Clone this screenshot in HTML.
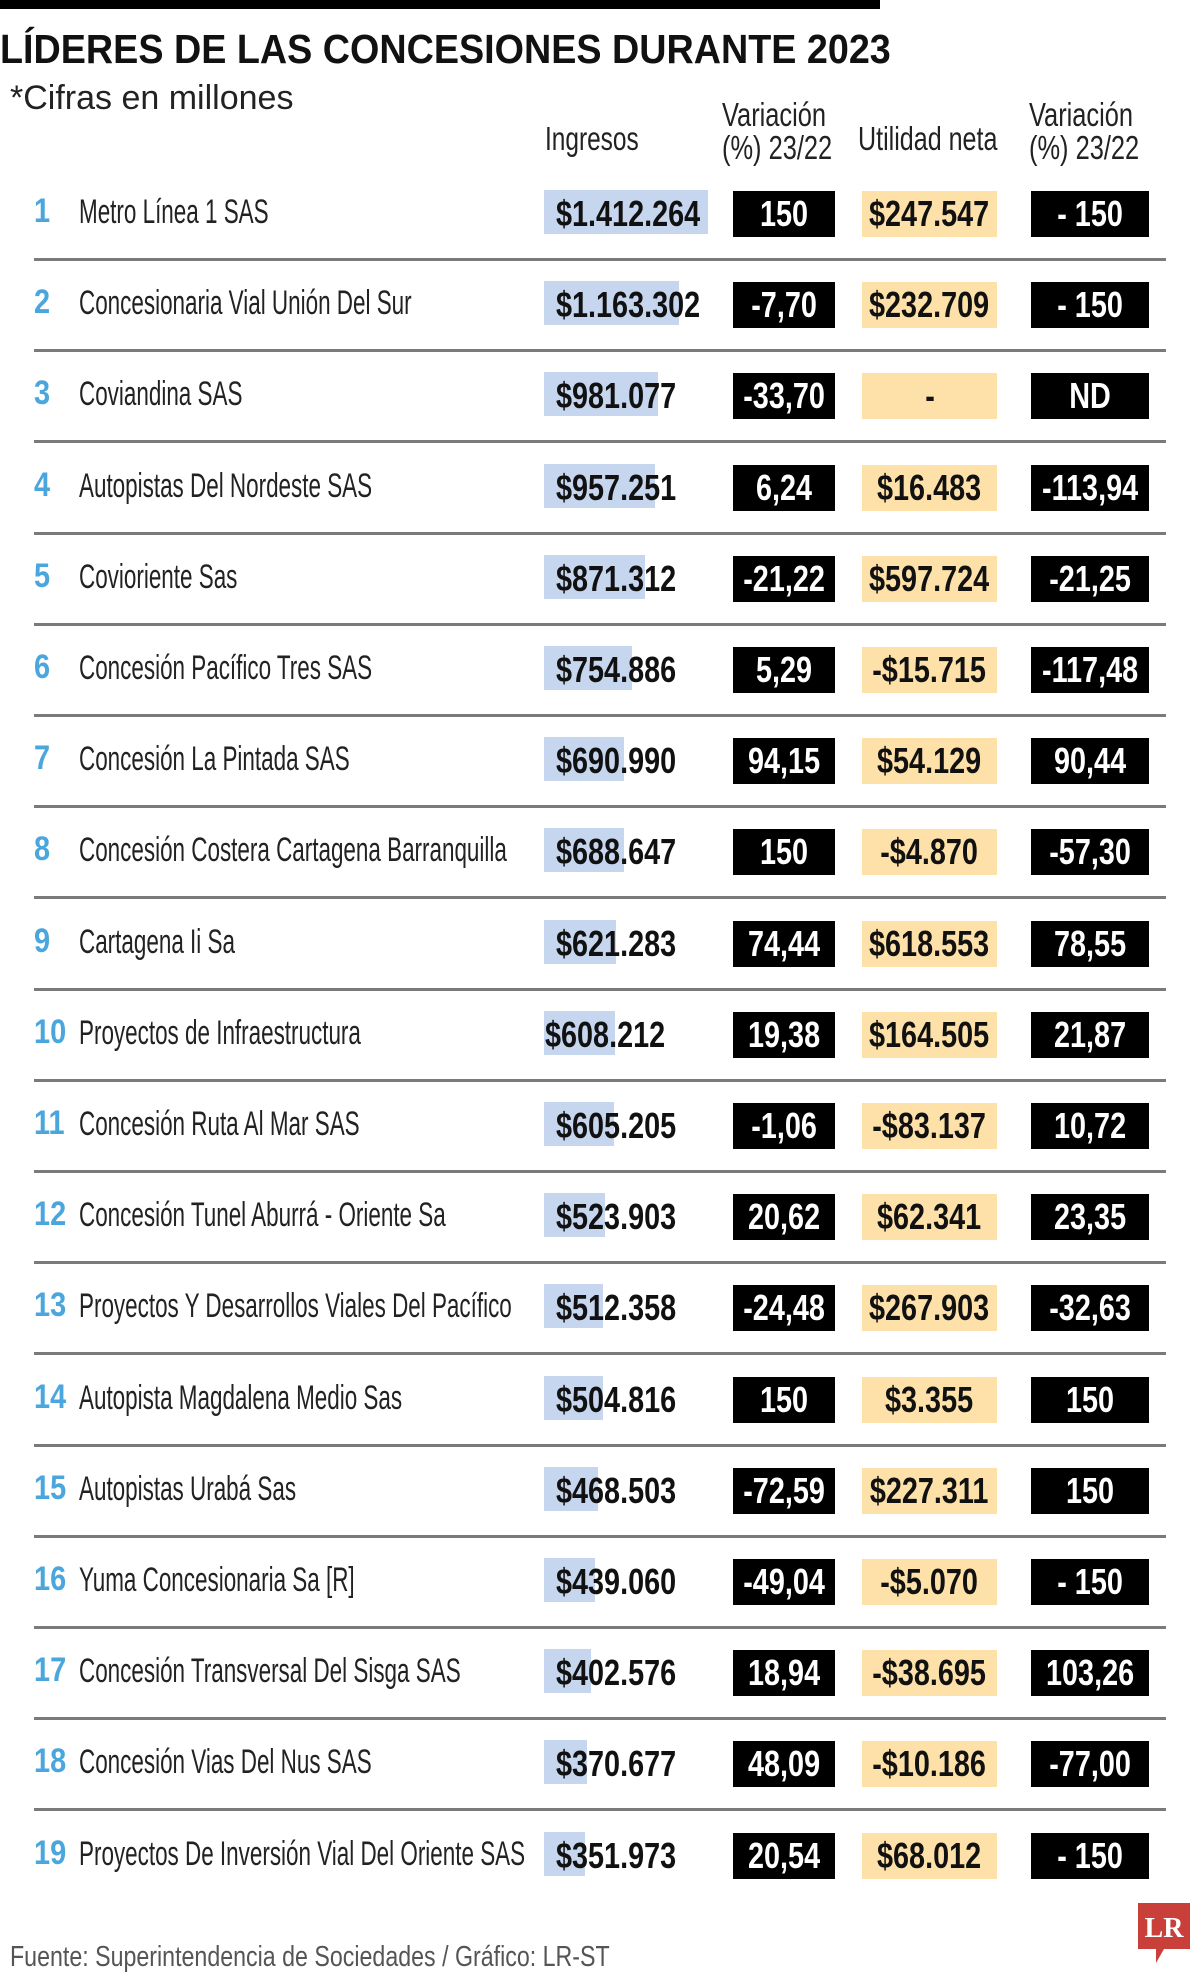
<!DOCTYPE html>
<html><head><meta charset="utf-8">
<style>
html,body{margin:0;padding:0;background:#fff;}
body{width:1200px;height:1975px;position:relative;overflow:hidden;font-family:"Liberation Sans",sans-serif;}
.abs{position:absolute;white-space:nowrap;}
.sx{display:inline-block;transform-origin:left center;}
.box{position:absolute;display:flex;align-items:center;justify-content:center;overflow:visible;}
.box span{display:inline-block;transform:scaleX(0.8);white-space:nowrap;font-weight:bold;font-size:36px;}
</style></head>
<body>
<div class="abs" style="left:0;top:0;width:880px;height:9px;background:#000;"></div>
<div class="abs" style="left:0;top:26px;font-size:41px;font-weight:bold;color:#111;"><span class="sx" style="transform:scaleX(0.92);">LÍDERES DE LAS CONCESIONES DURANTE 2023</span></div>
<div class="abs" style="left:10px;top:79px;font-size:34px;color:#222;"><span class="sx" style="transform:scaleX(1.0);">*Cifras en millones</span></div>
<div class="abs" style="left:545px;top:120px;font-size:33px;color:#222;"><span class="sx" style="transform:scaleX(0.74);">Ingresos</span></div>
<div class="abs" style="left:722px;top:98px;font-size:33px;color:#222;line-height:33px;"><span class="sx" style="transform:scaleX(0.77);">Variación<br>(%) 23/22</span></div>
<div class="abs" style="left:858px;top:120px;font-size:33px;color:#222;"><span class="sx" style="transform:scaleX(0.76);">Utilidad neta</span></div>
<div class="abs" style="left:1029px;top:98px;font-size:33px;color:#222;line-height:33px;"><span class="sx" style="transform:scaleX(0.77);">Variación<br>(%) 23/22</span></div>
<div id="rows"></div>
<div class="abs" style="left:10px;top:1941px;font-size:29px;color:#555;"><span class="sx" style="transform:scaleX(0.8);">Fuente: Superintendencia de Sociedades / Gráfico: LR-ST</span></div>
<svg class="abs" style="left:1138px;top:1903px;" width="52" height="64" viewBox="0 0 52 64">
<path d="M0 0H52V46H26L18 60V46H0Z" fill="#c9403a"/>
<text x="26" y="34" text-anchor="middle" font-family="Liberation Serif" font-weight="bold" font-size="28" fill="#fff">LR</text>
</svg>
<script>
const names=["Metro Línea 1 SAS","Concesionaria Vial Unión Del Sur","Coviandina SAS","Autopistas Del Nordeste SAS","Covioriente Sas","Concesión Pacífico Tres SAS","Concesión La Pintada SAS","Concesión Costera Cartagena Barranquilla","Cartagena Ii Sa","Proyectos de Infraestructura","Concesión Ruta Al Mar SAS","Concesión Tunel Aburrá - Oriente Sa","Proyectos Y Desarrollos Viales Del Pacífico","Autopista Magdalena Medio Sas","Autopistas Urabá Sas","Yuma Concesionaria Sa [R]","Concesión Transversal Del Sisga SAS","Concesión Vias Del Nus SAS","Proyectos De Inversión Vial Del Oriente SAS"];
const ingresos=[1412264,1163302,981077,957251,871312,754886,690990,688647,621283,608212,605205,523903,512358,504816,468503,439060,402576,370677,351973];
const ingresosLabels=["$1.412.264","$1.163.302","$981.077","$957.251","$871.312","$754.886","$690.990","$688.647","$621.283","$608.212","$605.205","$523.903","$512.358","$504.816","$468.503","$439.060","$402.576","$370.677","$351.973"];
const varIngresos=["150","-7,70","-33,70","6,24","-21,22","5,29","94,15","150","74,44","19,38","-1,06","20,62","-24,48","150","-72,59","-49,04","18,94","48,09","20,54"];
const utilidad=["$247.547","$232.709","-","$16.483","$597.724","-$15.715","$54.129","-$4.870","$618.553","$164.505","-$83.137","$62.341","$267.903","$3.355","$227.311","-$5.070","-$38.695","-$10.186","$68.012"];
const varUtilidad=["- 150","- 150","ND","-113,94","-21,25","-117,48","90,44","-57,30","78,55","21,87","10,72","23,35","-32,63","150","150","- 150","103,26","-77,00","- 150"];
const root=document.getElementById('rows');
const maxV=Math.max(...ingresos);
const rowY=i=>214+i*91.2;
const barW=v=>v/maxV*164;
function add(html){const d=document.createElement('div');d.innerHTML=html;const el=d.firstElementChild;root.appendChild(el);return el;}
names.forEach((n,i)=>{
  const cy=rowY(i);
  let el=add(`<div class="abs" style="left:34px;top:${cy-22}px;font-size:34px;color:#4aa6dc;font-weight:bold;"><span class="sx" style="transform:scaleX(0.85);">${i+1}</span></div>`);
  
  
  el=add(`<div class="abs" style="left:79px;top:${cy-21}px;font-size:34px;color:#222;"><span class="sx" style="transform:scaleX(0.66);">${n}</span></div>`);
  
  
  el=add(`<div class="abs" style="left:544px;top:${cy-24}px;width:${barW(ingresos[i])}px;height:44px;background:#c6d6ee;"></div>`);
  
  
  el=add(`<div class="abs" style="left:${i==9?545:556}px;top:${cy-21}px;font-size:36px;font-weight:bold;color:#111;"><span class="sx" style="transform:scaleX(0.8);">${ingresosLabels[i]}</span></div>`);
  
  
  el=add(`<div class="box" style="left:733px;top:${cy-23}px;width:102px;height:46px;background:#000;color:#fff;"><span>${varIngresos[i]}</span></div>`);
  
  
  el=add(`<div class="box" style="left:862px;top:${cy-23}px;width:135px;height:46px;background:#fde1a9;color:#111;"><span>${utilidad[i]}</span></div>`);
  
  
  el=add(`<div class="box" style="left:1031px;top:${cy-23}px;width:118px;height:46px;background:#000;color:#fff;"><span>${varUtilidad[i]}</span></div>`);
  
  
  if(i<names.length-1){
    el=add(`<div class="abs" style="left:34px;top:${cy+44}px;width:1132px;height:3px;background:#7a7a7a;"></div>`);
    
    
  }
});
</script>
</body></html>
